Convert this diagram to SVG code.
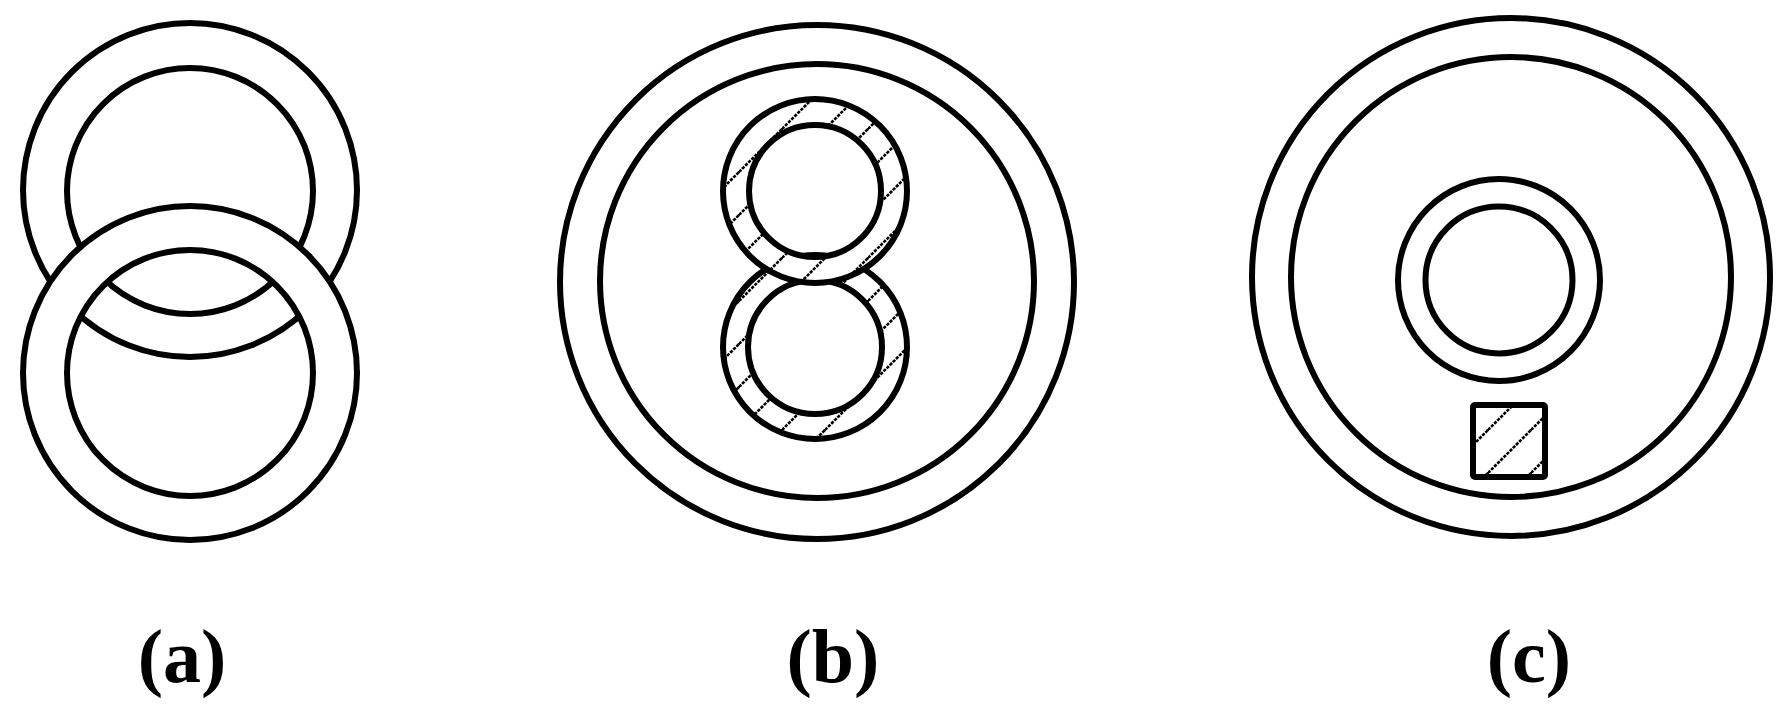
<svg xmlns="http://www.w3.org/2000/svg" width="1784" height="715" viewBox="0 0 1784 715">
  <defs>
    <pattern id="hatchB" patternUnits="userSpaceOnUse" x="8" y="0" width="43" height="43">
      <rect width="43" height="43" fill="#fff"/>
      <path d="M-5,5 L5,-5 M0,43 L43,0 M38,48 L48,38" stroke="#000" stroke-width="2.6" stroke-dasharray="3.2 1.2"/>
    </pattern>
    <pattern id="hatchC" patternUnits="userSpaceOnUse" x="26" y="0" width="43" height="43">
      <rect width="43" height="43" fill="#fff"/>
      <path d="M-5,5 L5,-5 M0,43 L43,0 M38,48 L48,38" stroke="#000" stroke-width="2.6" stroke-dasharray="3.2 1.2"/>
    </pattern>
  </defs>
  <style>
    .ln { fill: none; stroke: #000; stroke-width: 6; }
    .band { stroke: none; fill-rule: evenodd; }
    .lbl { font-family: "Liberation Serif", "Times New Roman", serif; font-weight: bold; font-size: 76px; fill: #000; text-anchor: middle; }
  </style>
  <rect width="1784" height="715" fill="#fff"/>

  <!-- (a) interlocked rings -->
  <g id="fig-a">
    <g id="ring-a-top">
      <circle class="ln" cx="190" cy="190" r="167"/>
      <circle class="ln" cx="190" cy="191" r="123"/>
    </g>
    <g id="ring-a-bottom">
      <path class="band" fill="#fff" d="M23,373 A167,167 0 1,0 357,373 A167,167 0 1,0 23,373 Z M67,373 A123,123 0 1,0 313,373 A123,123 0 1,0 67,373 Z"/>
      <circle class="ln" cx="190" cy="373" r="167"/>
      <circle class="ln" cx="190" cy="373" r="123"/>
    </g>
  </g>

  <!-- (b) figure-eight inside a ring -->
  <g id="fig-b">
    <g id="ring-b-outer">
      <circle class="ln" cx="817" cy="282" r="257"/>
      <circle class="ln" cx="817" cy="281" r="217"/>
    </g>
    <g id="eight-b-lower">
      <path class="band" fill="url(#hatchB)" d="M723,347 A92,92 0 1,0 907,347 A92,92 0 1,0 723,347 Z M748,347 A67,67 0 1,0 882,347 A67,67 0 1,0 748,347 Z"/>
      <circle class="ln" cx="815" cy="347" r="92"/>
      <circle class="ln" cx="815" cy="347" r="67"/>
    </g>
    <g id="eight-b-upper">
      <path class="band" fill="url(#hatchB)" d="M723,191 A92,92 0 1,0 907,191 A92,92 0 1,0 723,191 Z M749,191 A66,66 0 1,0 881,191 A66,66 0 1,0 749,191 Z"/>
      <circle class="ln" cx="815" cy="191" r="92"/>
      <circle class="ln" cx="815" cy="191" r="66"/>
    </g>
  </g>

  <!-- (c) rings with square -->
  <g id="fig-c">
    <g id="ring-c-outer">
      <circle class="ln" cx="1511" cy="277" r="259"/>
      <circle class="ln" cx="1511" cy="277" r="220"/>
    </g>
    <g id="ring-c-inner">
      <circle class="ln" cx="1499" cy="280" r="101"/>
      <circle class="ln" cx="1499" cy="280" r="73.5"/>
    </g>
    <g id="square-c">
      <rect x="1473" y="405" width="72" height="72" rx="2" fill="url(#hatchC)" stroke="#000" stroke-width="6"/>
    </g>
  </g>

  <g id="connectors"/>

  <g id="labels">
    <text class="lbl" x="182" y="682">(a)</text>
    <text class="lbl" x="833" y="682">(b)</text>
    <text class="lbl" x="1529" y="682">(c)</text>
  </g>
</svg>
